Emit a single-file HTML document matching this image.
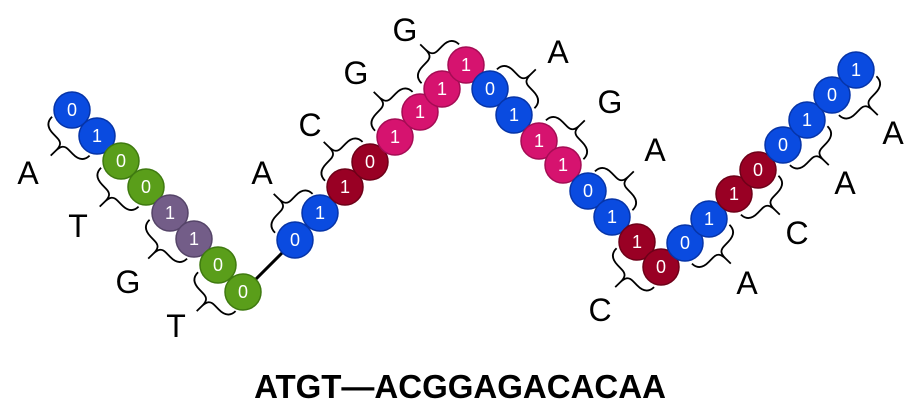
<!DOCTYPE html>
<html><head><meta charset="utf-8"><style>
html,body{margin:0;padding:0;background:#fff;width:924px;height:410px;overflow:hidden}
svg{display:block}
.l{font-family:"Liberation Sans",sans-serif;font-size:32px;fill:#000;text-anchor:middle;dominant-baseline:central}
.d{font-family:"Liberation Sans",sans-serif;font-size:18px;fill:#fff;text-anchor:middle;dominant-baseline:central}
.B{fill:#0a4be0;stroke:#0634a8;stroke-width:1.5}
.G{fill:#5a9e1a;stroke:#3f7a10;stroke-width:1.5}
.P{fill:#735d88;stroke:#554468;stroke-width:1.5}
.R{fill:#990024;stroke:#6e0018;stroke-width:1.5}
.M{fill:#d6136f;stroke:#a50c54;stroke-width:1.5}
</style></head><body>
<svg width="924" height="410" viewBox="0 0 924 410" xmlns="http://www.w3.org/2000/svg">
<defs><path id="br" d="M-27,19 C-27,27 -22,30 -14,30 L-8,30 C-2,30 0,33 0,40 C0,33 2,30 8,30 L14,30 C22,30 27,27 27,19 M0,40 L0,47" fill="none" stroke="#000" stroke-width="1.8"/></defs>
<line x1="243" y1="292" x2="295" y2="240" stroke="#000" stroke-width="3"/>
<g>
<use href="#br" transform="translate(84.5,123) rotate(46)"/>
<use href="#br" transform="translate(133.5,174) rotate(46)"/>
<use href="#br" transform="translate(182,226) rotate(46)"/>
<use href="#br" transform="translate(230.5,278.5) rotate(46)"/>
<use href="#br" transform="translate(307.5,226.5) rotate(134)"/>
<use href="#br" transform="translate(357.5,174.5) rotate(134)"/>
<use href="#br" transform="translate(407.5,124.5) rotate(134)"/>
<use href="#br" transform="translate(454,77) rotate(134)"/>
<use href="#br" transform="translate(502,102) rotate(-134)"/>
<use href="#br" transform="translate(551,153) rotate(-134)"/>
<use href="#br" transform="translate(600,204) rotate(-134)"/>
<use href="#br" transform="translate(649,254.5) rotate(46)"/>
<use href="#br" transform="translate(697,231) rotate(-46)"/>
<use href="#br" transform="translate(746,182) rotate(-46)"/>
<use href="#br" transform="translate(795,132.5) rotate(-46)"/>
<use href="#br" transform="translate(844,82.5) rotate(-46)"/>
</g>
<g>
<circle class="B" cx="72" cy="110" r="18"/><text class="d" x="72" y="110">0</text>
<circle class="B" cx="97" cy="136" r="18"/><text class="d" x="97" y="136">1</text>
<circle class="G" cx="121" cy="161" r="18"/><text class="d" x="121" y="161">0</text>
<circle class="G" cx="146" cy="187" r="18"/><text class="d" x="146" y="187">0</text>
<circle class="P" cx="170" cy="213" r="18"/><text class="d" x="170" y="213">1</text>
<circle class="P" cx="194" cy="239" r="18"/><text class="d" x="194" y="239">1</text>
<circle class="G" cx="218" cy="265" r="18"/><text class="d" x="218" y="265">0</text>
<circle class="G" cx="243" cy="292" r="18"/><text class="d" x="243" y="292">0</text>

<circle class="B" cx="295" cy="240" r="18"/><text class="d" x="295" y="240">0</text>
<circle class="B" cx="320" cy="213" r="18"/><text class="d" x="320" y="213">1</text>
<circle class="R" cx="345" cy="187" r="18"/><text class="d" x="345" y="187">1</text>
<circle class="R" cx="370" cy="162" r="18"/><text class="d" x="370" y="162">0</text>
<circle class="M" cx="395" cy="137" r="18"/><text class="d" x="395" y="137">1</text>
<circle class="M" cx="420" cy="112" r="18"/><text class="d" x="420" y="112">1</text>
<circle class="M" cx="442" cy="89" r="18"/><text class="d" x="442" y="89">1</text>
<circle class="M" cx="466" cy="65" r="18"/><text class="d" x="466" y="65">1</text>

<circle class="B" cx="490" cy="89" r="18"/><text class="d" x="490" y="89">0</text>
<circle class="B" cx="514" cy="115" r="18"/><text class="d" x="514" y="115">1</text>
<circle class="M" cx="539" cy="141" r="18"/><text class="d" x="539" y="141">1</text>
<circle class="M" cx="563" cy="165" r="18"/><text class="d" x="563" y="165">1</text>
<circle class="B" cx="588" cy="191" r="18"/><text class="d" x="588" y="191">0</text>
<circle class="B" cx="612" cy="217" r="18"/><text class="d" x="612" y="217">1</text>
<circle class="R" cx="637" cy="242" r="18"/><text class="d" x="637" y="242">1</text>
<circle class="R" cx="661" cy="267" r="18"/><text class="d" x="661" y="267">0</text>

<circle class="B" cx="685" cy="243" r="18"/><text class="d" x="685" y="243">0</text>
<circle class="B" cx="709" cy="219" r="18"/><text class="d" x="709" y="219">1</text>
<circle class="R" cx="734" cy="194" r="18"/><text class="d" x="734" y="194">1</text>
<circle class="R" cx="758" cy="170" r="18"/><text class="d" x="758" y="170">0</text>
<circle class="B" cx="783" cy="145" r="18"/><text class="d" x="783" y="145">0</text>
<circle class="B" cx="807" cy="120" r="18"/><text class="d" x="807" y="120">1</text>
<circle class="B" cx="832" cy="95" r="18"/><text class="d" x="832" y="95">0</text>
<circle class="B" cx="856" cy="70" r="18"/><text class="d" x="856" y="70">1</text>
</g>
<g>
<text class="l" x="28" y="173">A</text>
<text class="l" x="78" y="226">T</text>
<text class="l" x="128" y="282">G</text>
<text class="l" x="176" y="326">T</text>
<text class="l" x="262" y="173">A</text>
<text class="l" x="310" y="125">C</text>
<text class="l" x="356" y="73">G</text>
<text class="l" x="405" y="30">G</text>
<text class="l" x="558" y="52">A</text>
<text class="l" x="610" y="102">G</text>
<text class="l" x="655" y="150">A</text>
<text class="l" x="600" y="310">C</text>
<text class="l" x="747" y="283">A</text>
<text class="l" x="797" y="233">C</text>
<text class="l" x="845" y="183">A</text>
<text class="l" x="893" y="133">A</text>
</g>
<text x="460" y="398" font-family="Liberation Sans,sans-serif" font-size="33" font-weight="bold" text-anchor="middle">ATGT—ACGGAGACACAA</text>
</svg>
</body></html>
